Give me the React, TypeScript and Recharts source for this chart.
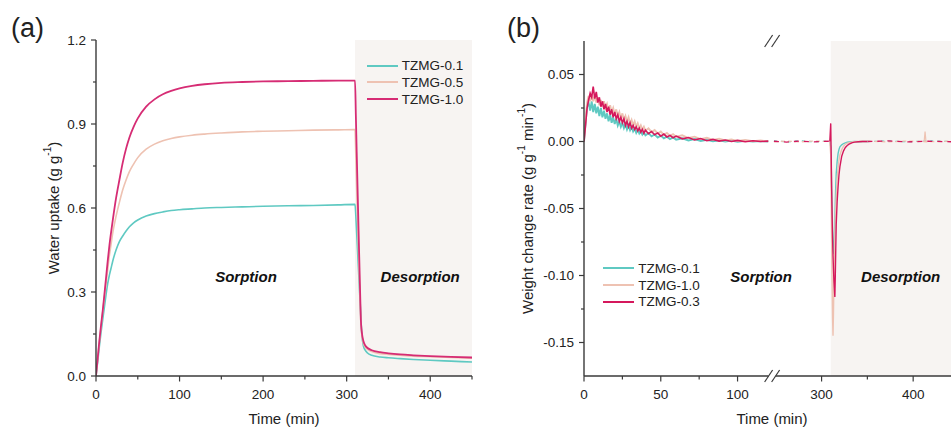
import React from 'react';
import { LineChart, Line, XAxis, YAxis, Legend, ReferenceArea, ReferenceDot } from 'recharts';

const FONT = 'Arial, "Liberation Sans", sans-serif';
const AXIS = '#3a3a3a';
const TEXT = '#222';
const SHADE = '#f7f4f2';
const TEAL = '#5fc9c2';
const PEACH = '#eec2b2';
const MAGENTA_A = '#d62c74';
const MAGENTA_B = '#d5185c';

// ── (a) water uptake ─────────────────────────────────────────────────────────
const A_TIME = [0, 2, 4, 6, 8, 10, 12, 14, 16, 18, 20, 24, 28, 32, 36, 40, 45, 50, 60, 70, 80, 90, 100,
  115, 130, 150, 175, 200, 230, 260, 290, 310, 311, 312, 314, 316, 317, 318, 320, 322, 325, 330,
  340, 350, 364, 380, 400, 425, 450];
const A_TZMG01 = [0, 0.05, 0.105, 0.155, 0.2, 0.245, 0.29, 0.33, 0.36, 0.385, 0.41, 0.45, 0.48, 0.5, 0.518,
  0.533, 0.547, 0.557, 0.571, 0.58, 0.586, 0.591, 0.594, 0.597, 0.6, 0.602, 0.604, 0.606, 0.608, 0.609,
  0.611, 0.613, 0.57, 0.51, 0.39, 0.27, 0.21, 0.155, 0.108, 0.093, 0.082, 0.074, 0.068, 0.065, 0.062,
  0.059, 0.056, 0.053, 0.05];
const A_TZMG05 = [0, 0.06, 0.12, 0.175, 0.228, 0.28, 0.33, 0.38, 0.43, 0.47, 0.51, 0.57, 0.62, 0.665, 0.7,
  0.73, 0.757, 0.78, 0.81, 0.828, 0.84, 0.848, 0.854, 0.86, 0.864, 0.868, 0.872, 0.874, 0.876, 0.878,
  0.879, 0.88, 0.78, 0.67, 0.46, 0.27, 0.19, 0.15, 0.118, 0.104, 0.095, 0.087, 0.08, 0.077, 0.074,
  0.071, 0.069, 0.066, 0.064];
const A_TZMG10 = [0, 0.062, 0.125, 0.18, 0.232, 0.29, 0.35, 0.41, 0.465, 0.512, 0.555, 0.635, 0.7, 0.762, 0.812,
  0.852, 0.89, 0.92, 0.962, 0.988, 1.006, 1.018, 1.027, 1.036, 1.042, 1.047, 1.05, 1.052, 1.053, 1.054,
  1.055, 1.055, 0.93, 0.8, 0.55, 0.31, 0.2, 0.16, 0.125, 0.11, 0.1, 0.092, 0.085, 0.081, 0.077,
  0.074, 0.071, 0.068, 0.066];
const A_X_TICKS = [0, 50, 100, 150, 200, 250, 300, 350, 400, 450];
const A_Y_TICKS = [0, 0.15, 0.3, 0.45, 0.6, 0.75, 0.9, 1.05, 1.2];

const aRows = A_TIME.map((t, i) => ({ t, s01: A_TZMG01[i], s05: A_TZMG05[i], s10: A_TZMG10[i] }));

// ── (b) weight change rate, broken time axis ─────────────────────────────────
const B_LEFT_T = [0, 1, 2, 3, 4, 5, 6, 7, 8, 9, 10, 11, 12, 13, 14, 15, 16, 17, 18, 19, 20, 21, 22, 23, 24,
  25, 26, 27, 28, 29, 30, 31, 32, 33, 34, 35, 36, 37, 38, 39, 40, 42, 44, 46, 48, 50, 52, 54, 56, 58, 60,
  64, 68, 72, 76, 80, 84, 88, 92, 96, 100, 105, 110, 115, 120];
const B_LEFT_01 = [0, 0.014, 0.026, 0.029, 0.023, 0.03, 0.022, 0.028, 0.021, 0.026, 0.019, 0.025, 0.018,
  0.023, 0.017, 0.021, 0.015, 0.02, 0.014, 0.018, 0.013, 0.017, 0.012, 0.015, 0.011, 0.014, 0.01, 0.013,
  0.009, 0.012, 0.0085, 0.011, 0.0075, 0.0095, 0.0065, 0.0088, 0.006, 0.0078, 0.0052, 0.007, 0.0046,
  0.0062, 0.0038, 0.0052, 0.003, 0.0044, 0.0024, 0.0036, 0.0018, 0.003, 0.0014,
  0.0024, 0.0008, 0.0018, 0.0004, 0.0012, 0.0002, 0.0009, 0, 0.0007, -0.0002, 0.0005, 0, 0.0004, 0];
const B_LEFT_10 = [0, 0.016, 0.029, 0.034, 0.03, 0.035, 0.03, 0.034, 0.029, 0.033, 0.027, 0.031, 0.026,
  0.03, 0.025, 0.028, 0.023, 0.027, 0.022, 0.025, 0.02, 0.024, 0.019, 0.022, 0.017, 0.021, 0.016, 0.019,
  0.015, 0.018, 0.013, 0.016, 0.012, 0.015, 0.011, 0.0135, 0.0098, 0.012, 0.0088, 0.011, 0.008,
  0.0098, 0.007, 0.0085, 0.006, 0.0074, 0.005, 0.0064, 0.0042, 0.0055, 0.0036,
  0.0046, 0.0026, 0.0036, 0.0018, 0.0028, 0.0012, 0.002, 0.0008, 0.0016, 0.0004, 0.0012, 0.0002, 0.0008, 0.0001];
const B_LEFT_03 = [0, 0.012, 0.025, 0.031, 0.036, 0.033, 0.041, 0.032, 0.037, 0.029, 0.033, 0.026, 0.03,
  0.024, 0.028, 0.022, 0.026, 0.02, 0.024, 0.018, 0.022, 0.017, 0.02, 0.015, 0.018, 0.014, 0.017, 0.012,
  0.015, 0.011, 0.014, 0.01, 0.012, 0.009, 0.011, 0.008, 0.01, 0.007, 0.009, 0.0062, 0.0085,
  0.0058, 0.0075, 0.005, 0.0064, 0.004, 0.0055, 0.0034, 0.0046, 0.0028, 0.004,
  0.002, 0.003, 0.0012, 0.0022, 0.0006, 0.0016, 0.0003, 0.0011, 0, 0.0008, -0.0002, 0.0006, 0, 0.0003];

const B_RIGHT_T = [309, 310, 310.5, 311, 311.5, 312, 312.5, 313, 313.5, 314, 314.5, 315, 315.5, 316, 317,
  318, 319, 320, 322, 324, 326, 328, 330, 333, 336, 340, 345, 350];
const B_RIGHT_01 = [0, -0.004, -0.015, -0.035, -0.05, -0.064, -0.074, -0.081, -0.084, -0.076, -0.06, -0.045,
  -0.033, -0.024, -0.015, -0.009, -0.006, -0.004, -0.0025, -0.0015, -0.001, -0.0006, -0.0004, -0.0002, 0,
  -0.0002, 0, 0];
const B_RIGHT_10 = [0, -0.01, -0.04, -0.075, -0.105, -0.132, -0.145, -0.128, -0.105, -0.085, -0.07, -0.058,
  -0.048, -0.04, -0.028, -0.02, -0.014, -0.01, -0.006, -0.0035, -0.002, -0.0012, -0.0008, -0.0004, -0.0002,
  0, 0.0002, 0];
const B_RIGHT_03 = [0, 0.0135, -0.01, -0.035, -0.055, -0.072, -0.085, -0.095, -0.104, -0.11, -0.116, -0.1,
  -0.08, -0.062, -0.045, -0.034, -0.025, -0.019, -0.011, -0.007, -0.0045, -0.003, -0.002, -0.001, -0.0005,
  -0.0002, 0, 0];

// sparse logging stretches, drawn dashed
const B_GAP_T = [248, 262, 276, 290, 309];
const B_GAP_01 = [0.0004, -0.0003, 0.0005, -0.0002, 0.0003];
const B_GAP_10 = [-0.0002, 0.0004, -0.0003, 0.0003, 0];
const B_GAP_03 = [0.0002, -0.0004, 0.0003, -0.0003, 0.0002];
const B_TAIL_T = [350, 372, 394, 416, 442];
const B_TAIL_01 = [0, 0.0003, -0.0002, 0.0004, 0];
const B_TAIL_10 = [0.0002, -0.0003, 0.0004, -0.0002, 0.0003];
const B_TAIL_03 = [0, 0.0004, -0.0003, 0.0002, -0.0002];
const B_SPIKE_T = [412, 413, 414];
const B_SPIKE_10 = [0, 0.0075, 0];

const B_X_TICKS = [0, 25, 50, 75, 100, 300, 350, 400];
const B_X_MAJOR = [0, 50, 100, 300, 400];
const B_Y_TICKS = [-0.15, -0.125, -0.1, -0.075, -0.05, -0.025, 0, 0.025, 0.05];

// broken axis: left part in minutes, right part compressed
const BREAK_L = 122.5;
const BREAK_R = 246;
const RIGHT_SCALE = 0.5965;
const B_MAX = 239;
const brk = (t: number) => (t <= BREAK_L ? t : BREAK_L + (t - BREAK_R) * RIGHT_SCALE);
const unbrk = (v: number) => (v <= BREAK_L + 1e-6 ? v : BREAK_R + (v - BREAK_L) / RIGHT_SCALE);
const seg = (ts: number[], vs: number[]) => ts.map((t, i) => ({ x: brk(t), y: vs[i] }));
const dashed = (g: number[], tail: number[]) => [...seg(B_GAP_T, g), { x: brk(330), y: null }, ...seg(B_TAIL_T, tail)];

// ── shared bits ──────────────────────────────────────────────────────────────
const xTick = (isMajor: (v: number) => boolean, fmt: (v: number) => string) => (p: any) => {
  const v = p.payload.value;
  const major = isMajor(v);
  return (
    <g>
      <line x1={p.x} x2={p.x} y1={p.y} y2={p.y + (major ? 5.5 : 3.5)} stroke={AXIS} strokeWidth={1.2} />
      {major && (
        <text x={p.x} y={p.y + 23} textAnchor="middle" fontSize={13.5} fill={TEXT} fontFamily={FONT}>{fmt(v)}</text>
      )}
    </g>
  );
};

const yTick = (isMajor: (v: number) => boolean, fmt: (v: number) => string) => (p: any) => {
  const v = p.payload.value;
  const major = isMajor(v);
  return (
    <g>
      <line x1={p.x} x2={p.x - (major ? 5 : 3)} y1={p.y} y2={p.y} stroke={AXIS} strokeWidth={1.2} />
      {major && (
        <text x={p.x - 10} y={p.y + 4.8} textAnchor="end" fontSize={13.5} fill={TEXT} fontFamily={FONT}>{fmt(v)}</text>
      )}
    </g>
  );
};

const xTitle = (dx: number) => (props: any) => {
  const vb = props.viewBox || {};
  return (
    <text x={vb.x + vb.width / 2 + dx} y={vb.y + 48} textAnchor="middle" fontSize={15} fill={TEXT} fontFamily={FONT}>
      Time (min)
    </text>
  );
};

const yTitle = (cxOff: number, parts: { t: string; sup?: boolean }[]) => (props: any) => {
  const vb = props.viewBox || {};
  const cx = vb.x + cxOff;
  const cy = vb.y + vb.height / 2;
  let prevSup = false;
  return (
    <text x={cx} y={cy} transform={`rotate(-90 ${cx} ${cy})`} textAnchor="middle" dominantBaseline="central"
      fontSize={15} fill={TEXT} fontFamily={FONT}>
      {parts.map((p, i) => {
        const dy = p.sup ? -6 : prevSup ? 6 : 0;
        prevSup = !!p.sup;
        return <tspan key={i} dy={dy} fontSize={p.sup ? 10 : 15}>{p.t}</tspan>;
      })}
    </text>
  );
};

const phaseText = (label: string) => (p: any) => (
  <text x={p.cx} y={p.cy + 5.4} textAnchor="middle" fontSize={15} fontWeight="bold" fontStyle="italic"
    fill="#111" fontFamily={FONT}>{label}</text>
);

const breakMark = (p: any) => (
  <g>
    <rect x={p.cx - 3.5} y={p.cy - 2} width={7} height={4} fill="#fff" />
    <line x1={p.cx - 7.5} y1={p.cy + 6} x2={p.cx + 0.5} y2={p.cy - 6} stroke={AXIS} strokeWidth={1.2} />
    <line x1={p.cx - 0.5} y1={p.cy + 6} x2={p.cx + 7.5} y2={p.cy - 6} stroke={AXIS} strokeWidth={1.2} />
  </g>
);

const legendContent = (order: string[]) => (props: any) => {
  const items = (props.payload ?? [])
    .filter((a: any) => order.includes(a.value))
    .sort((a: any, b: any) => order.indexOf(a.value) - order.indexOf(b.value));
  return (
    <div style={{ fontFamily: FONT, fontSize: 13.5, color: TEXT }}>
      {items.map((it: any) => (
        <div key={it.value} style={{ display: 'flex', alignItems: 'center', height: 16.7 }}>
          <svg width={31} height={4} style={{ marginRight: 4 }}>
            <line x1={0} x2={31} y1={2} y2={2} stroke={it.color} strokeWidth={2} />
          </svg>
          <span>{it.value}</span>
        </div>
      ))}
    </div>
  );
};

function PanelA() {
  return (
    <LineChart width={490} height={429} data={aRows} margin={{ top: 40, right: 18, bottom: 0, left: 0 }}>
      <ReferenceArea x1={310} x2={450} y1={0} y2={1.2} fill={SHADE} fillOpacity={1} stroke="none" />
      <XAxis dataKey="t" type="number" domain={[0, 450]} allowDataOverflow ticks={A_X_TICKS} interval={0}
        height={53} tickSize={0} tickMargin={0} tickLine={false} axisLine={{ stroke: AXIS, strokeWidth: 1.4 }}
        tick={xTick((v) => v % 100 === 0, (v) => String(v))} label={xTitle(0)} />
      <XAxis xAxisId="top" orientation="top" type="number" domain={[0, 450]} height={0} tick={false}
        tickLine={false} axisLine={{ stroke: AXIS, strokeWidth: 1.4 }} />
      <YAxis type="number" domain={[0, 1.2]} allowDataOverflow ticks={A_Y_TICKS} interval={0} width={96}
        tickSize={0} tickMargin={0} tickLine={false} axisLine={{ stroke: AXIS, strokeWidth: 1.4 }}
        tick={yTick((v) => Math.abs(v / 0.3 - Math.round(v / 0.3)) < 1e-6, (v) => v.toFixed(1))}
        label={yTitle(52.5, [{ t: 'Water uptake (g g' }, { t: '-1', sup: true }, { t: ')' }])} />
      <YAxis yAxisId="r" orientation="right" type="number" domain={[0, 1.2]} width={0} tick={false}
        tickLine={false} axisLine={{ stroke: '#8a8a8a', strokeWidth: 1.2 }} />
      <Line type="monotone" dataKey="s01" name="TZMG-0.1" stroke={TEAL} strokeWidth={1.6} dot={false} isAnimationActive={false} />
      <Line type="monotone" dataKey="s05" name="TZMG-0.5" stroke={PEACH} strokeWidth={1.6} dot={false} isAnimationActive={false} />
      <Line type="monotone" dataKey="s10" name="TZMG-1.0" stroke={MAGENTA_A} strokeWidth={1.8} dot={false} isAnimationActive={false} />
      <ReferenceDot x={179.5} y={0.354} r={0} ifOverflow="visible" shape={phaseText('Sorption')} />
      <ReferenceDot x={388} y={0.354} r={0} ifOverflow="visible" shape={phaseText('Desorption')} />
      <Legend layout="vertical" align="center" verticalAlign="middle"
        wrapperStyle={{ left: 366.7, top: 57.3, width: 'auto', height: 'auto' }}
        content={legendContent(['TZMG-0.1', 'TZMG-0.5', 'TZMG-1.0'])} />
    </LineChart>
  );
}

function PanelB() {
  const lineProps = { type: 'linear' as const, dataKey: 'y', dot: false, isAnimationActive: false };
  return (
    <LineChart width={461} height={429} margin={{ top: 41, right: 0, bottom: 0, left: 0 }}>
      <ReferenceArea x1={brk(310)} x2={B_MAX} y1={-0.175} y2={0.075} fill={SHADE} fillOpacity={1} stroke="none" />
      <XAxis dataKey="x" type="number" domain={[0, B_MAX]} allowDataOverflow ticks={B_X_TICKS.map(brk)} interval={0}
        height={53} tickSize={0} tickMargin={0} tickLine={false} axisLine={{ stroke: AXIS, strokeWidth: 1.4 }}
        tick={xTick((v) => B_X_MAJOR.includes(Math.round(unbrk(v))), (v) => String(Math.round(unbrk(v))))}
        label={xTitle(4.5)} />
      <XAxis xAxisId="top" orientation="top" type="number" domain={[0, B_MAX]} height={0} tick={false}
        tickLine={false} axisLine={{ stroke: AXIS, strokeWidth: 1.4 }} />
      <YAxis type="number" domain={[-0.175, 0.075]} allowDataOverflow ticks={B_Y_TICKS} interval={0} width={94}
        tickSize={0} tickMargin={0} tickLine={false} axisLine={{ stroke: AXIS, strokeWidth: 1.4 }}
        tick={yTick((v) => Math.abs(v / 0.05 - Math.round(v / 0.05)) < 1e-6, (v) => v.toFixed(2))}
        label={yTitle(37, [{ t: 'Weight change rate (g g' }, { t: '-1', sup: true }, { t: ' min' }, { t: '-1', sup: true }, { t: ')' }])} />

      <Line {...lineProps} data={seg(B_LEFT_T, B_LEFT_01)} name="TZMG-0.1" stroke={TEAL} strokeWidth={1.9} />
      <Line {...lineProps} data={seg(B_LEFT_T, B_LEFT_10)} name="TZMG-1.0" stroke={PEACH} strokeWidth={1.9} />
      <Line {...lineProps} data={seg(B_LEFT_T, B_LEFT_03)} name="TZMG-0.3" stroke={MAGENTA_B} strokeWidth={1.6} />

      <Line {...lineProps} data={dashed(B_GAP_01, B_TAIL_01)} name="gap-01" legendType="none" stroke={TEAL} strokeWidth={1.3} strokeDasharray="3 4" />
      <Line {...lineProps} data={dashed(B_GAP_10, B_TAIL_10)} name="gap-10" legendType="none" stroke={PEACH} strokeWidth={1.3} strokeDasharray="4 3" />
      <Line {...lineProps} data={dashed(B_GAP_03, B_TAIL_03)} name="gap-03" legendType="none" stroke={MAGENTA_B} strokeWidth={1.3} strokeDasharray="5 5" />
      <Line {...lineProps} data={seg(B_SPIKE_T, B_SPIKE_10)} name="spike-10" legendType="none" stroke={PEACH} strokeWidth={1.2} />

      <Line {...lineProps} data={seg(B_RIGHT_T, B_RIGHT_01)} name="des-01" legendType="none" stroke={TEAL} strokeWidth={1.4} />
      <Line {...lineProps} data={seg(B_RIGHT_T, B_RIGHT_10)} name="des-10" legendType="none" stroke={PEACH} strokeWidth={1.4} />
      <Line {...lineProps} data={seg(B_RIGHT_T, B_RIGHT_03)} name="des-03" legendType="none" stroke={MAGENTA_B} strokeWidth={1.4} />

      <ReferenceDot x={BREAK_L} y={-0.175} r={0} ifOverflow="visible" shape={breakMark} />
      <ReferenceDot x={BREAK_L} y={0.075} r={0} ifOverflow="visible" shape={breakMark} />
      <ReferenceDot x={115.3} y={-0.101} r={0} ifOverflow="visible" shape={phaseText('Sorption')} />
      <ReferenceDot x={206.2} y={-0.101} r={0} ifOverflow="visible" shape={phaseText('Desorption')} />
      <Legend layout="vertical" align="center" verticalAlign="middle"
        wrapperStyle={{ left: 113.3, top: 260, width: 'auto', height: 'auto' }}
        content={legendContent(['TZMG-0.1', 'TZMG-1.0', 'TZMG-0.3'])} />
    </LineChart>
  );
}

export default function App() {
  const panelLabel: React.CSSProperties = {
    position: 'absolute', top: 15, fontSize: 27, lineHeight: '27px', fontFamily: FONT, color: TEXT,
  };
  return (
    <div style={{ position: 'absolute', left: 0, top: 0, width: 951, height: 429, background: '#fff', overflow: 'hidden' }}>
      <div style={{ position: 'absolute', left: 0, top: 0 }}><PanelA /></div>
      <div style={{ position: 'absolute', left: 490, top: 0 }}><PanelB /></div>
      <div style={{ ...panelLabel, left: 11 }}>(a)</div>
      <div style={{ ...panelLabel, left: 507 }}>(b)</div>
    </div>
  );
}
